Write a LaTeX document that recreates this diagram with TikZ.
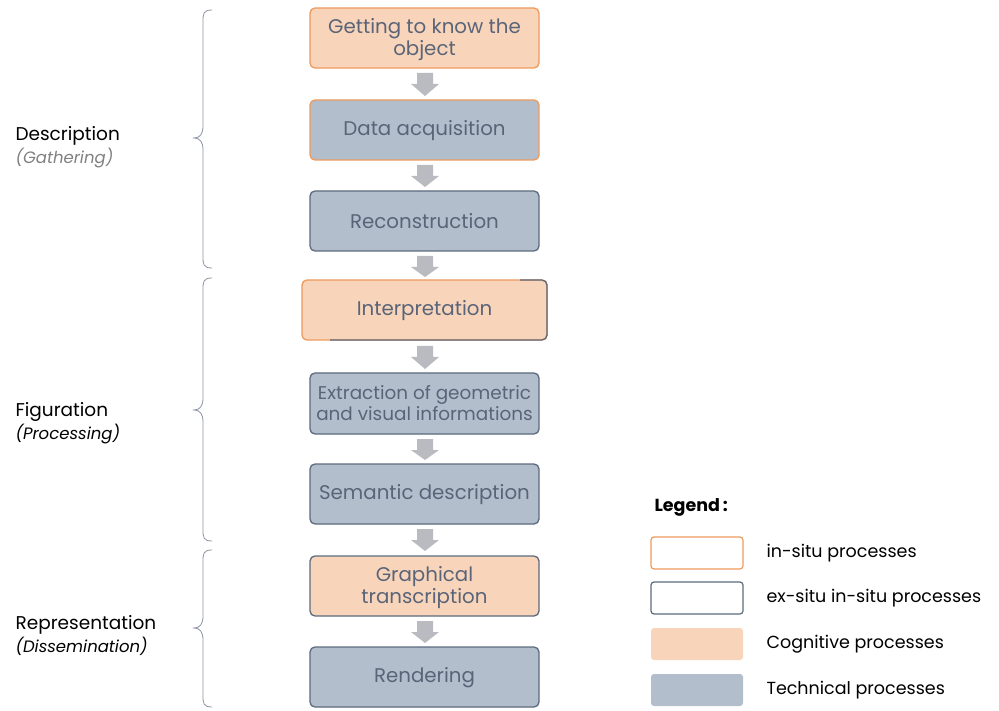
\documentclass[tikz,border=0pt]{standalone}
\usepackage{fontspec}
\setmainfont{Poppins}
\usetikzlibrary{shapes.arrows,decorations.pathreplacing,calc}
\definecolor{ofill}{HTML}{F8D5BA}
\definecolor{oline}{HTML}{EE9A5C}
\definecolor{gfill}{HTML}{B3BECC}
\definecolor{dline}{HTML}{5C6A7E}
\definecolor{btext}{HTML}{5A6478}
\definecolor{arr}{HTML}{B9BBC1}
\definecolor{brc}{HTML}{8C95A5}
\tikzset{
  box/.style={rounded corners=5pt, line width=1.3pt, text=btext, align=center,
    font=\fontsize{19.8}{22}\selectfont},
  cog/.style={fill=ofill},
  tech/.style={fill=gfill},
  insitu/.style={draw=oline},
  exsitu/.style={draw=dline},
  brc/.style={draw=brc, line width=0.8pt},
  lbl/.style={anchor=west, align=left, font=\fontsize{18.5}{23}\selectfont},
  leg/.style={anchor=west, font=\fontsize{17.5}{20}\selectfont},
}
\newcommand{\itl}[1]{{\fontsize{16.5}{23}\selectfont\itshape #1}}
\begin{document}
\begin{tikzpicture}[x=1pt,y=-1pt]
\useasboundingbox (0,0) rectangle (999,711);
% boxes
\draw[box,cog,insitu] (310,8) rectangle (539,68);
\node[box] (n1) at (424.5,40) {Getting to know the\\object};
\draw[box,tech,insitu] (310,100) rectangle (539,160);
\node[box] (n2) at (424.5,131) {Data acquisition};
\draw[box,tech,exsitu] (310,191) rectangle (539,251);
\node[box] (n3) at (424.5,221) {Reconstruction};
\draw[box,cog,insitu] (302,280) rectangle (547,340);
\draw[dline,line width=1.3pt,rounded corners=5pt] (520,280) -- (547,280) -- (547,340) -- (330,340);
\node[box] (n4) at (424.5,311) {Interpretation};
\draw[box,tech,exsitu] (310,373) rectangle (539,434);
\node[box,font=\fontsize{18.4}{21}\selectfont] (n5) at (424.5,403.5) {Extraction of geometric\\and visual informations};
\draw[box,tech,exsitu] (310,464) rectangle (539,524);
\node[box] (n6) at (424.5,494.5) {Semantic description};
\draw[box,cog,exsitu] (310,556) rectangle (539,616);
\node[box] (n7) at (424.5,587.5) {Graphical\\transcription};
\draw[box,tech,exsitu] (310,647) rectangle (539,707);
\node[box] (n8) at (424.5,677.5) {Rendering};
% block arrows
\foreach \a/\b in {73/96, 165/187, 256/277, 346/369, 439/460, 529/551, 621/643}{
  \fill[arr] (417,\a) -- (433,\a) -- (433,\a+11) -- (439,\a+11) -- (425,\b) -- (411,\a+11) -- (417,\a+11) -- cycle;
}
% braces
\draw[brc] (212,10) .. controls (203,10) and (203,14) .. (203,22) -- (203,126) .. controls (203,134) and (200,138) .. (194,138)
  .. controls (200,138) and (203,142) .. (203,150) -- (203,256) .. controls (203,264) and (203,268) .. (212,268);
\draw[brc] (212,278) .. controls (203,278) and (203,282) .. (203,290) -- (203,398) .. controls (203,406) and (200,410) .. (194,410)
  .. controls (200,410) and (203,414) .. (203,422) -- (203,529) .. controls (203,537) and (203,541) .. (212,541);
\draw[brc] (212,550) .. controls (203,550) and (203,554) .. (203,562) -- (203,616) .. controls (203,624) and (200,628) .. (194,628)
  .. controls (200,628) and (203,632) .. (203,640) -- (203,695) .. controls (203,703) and (203,707) .. (212,707);
% labels
\node[lbl] (l1) at (12,147.5) {Description\\{\color{gray}\itl{(Gathering)}}};
\node[lbl] (l2) at (12,423.5) {Figuration\\\itl{(Processing)}};
\node[lbl] (l3) at (12,635) {Representation\\\itl{(Dissemination)}};
% legend
\node[leg, font=\bfseries\fontsize{17.5}{20}\selectfont] (lg) at (651,507) {Legend\,:};
\draw[rounded corners=3pt, line width=1.2pt, draw=oline] (651,537) rectangle (743,569);
\node[leg] (t1) at (763,553) {in-situ processes};
\draw[rounded corners=3pt, line width=1.2pt, draw=dline] (651,582) rectangle (743,614);
\node[leg] (t2) at (763,598) {ex-situ in-situ processes};
\fill[rounded corners=3pt, ofill] (651,628) rectangle (743,660);
\node[leg] (t3) at (763,644) {Cognitive processes};
\fill[rounded corners=3pt, gfill] (651,674) rectangle (743,706);
\node[leg] (t4) at (763,690) {Technical processes};
\end{tikzpicture}
\end{document}
